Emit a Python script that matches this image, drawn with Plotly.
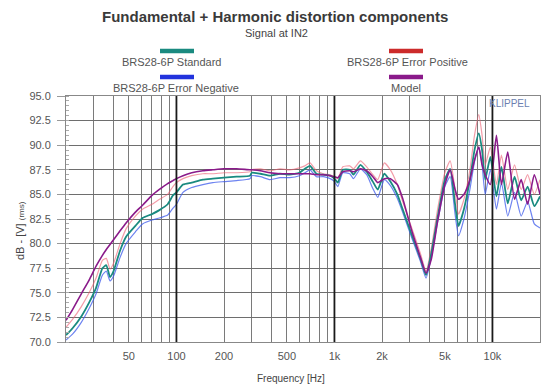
import plotly.graph_objects as go
import math

freq = [20, 22, 25, 28, 31, 34, 36, 38, 40, 44, 48, 55, 61, 70, 78, 88, 95, 100, 110, 125,
        147, 170, 200, 240, 292, 300, 340, 391, 452, 520, 600, 650, 700, 770, 850, 940,
        1000, 1050, 1130, 1250, 1320, 1460, 1600, 1750, 1880, 2070, 2260, 2500, 2700, 3100,
        3500, 3800, 4100, 4500, 5000, 5400, 5800, 6100, 6600, 7200, 7700, 8200, 8600, 9000,
        9700, 10600, 11400, 12500, 13800, 15200, 16700, 18400, 20000]

model = [72.2, 73.3, 74.9, 76.3, 77.7, 78.8, 79.4, 79.9, 80.4, 81.3, 82.1, 83.2, 83.9, 84.9, 85.5, 86.1, 86.4, 86.6, 86.9, 87.2,
         87.4, 87.5, 87.6, 87.6, 87.5, 87.5, 87.4, 87.2, 87.1, 87.1, 87.1, 87.1, 87.1, 87.0, 87.0, 86.9,
         86.8, 86.7, 87.3, 87.4, 87.3, 87.6, 87.4, 86.8, 86.2, 86.6, 86.6, 86.0, 84.6, 81.2,
         78.6, 77.0, 78.4, 82.3, 86.0, 87.5, 85.5, 84.5, 85.0, 86.5, 88.5, 89.8, 88.0, 87.0,
         86.0, 91.0, 86.0, 89.3, 84.5, 86.5, 84.0, 87.0, 85.0]

standard = [70.7, 71.4, 72.6, 74.0, 75.5, 77.5, 77.8, 76.6, 77.2, 79.3, 80.7, 81.8, 82.6, 83.0, 83.4, 84.0, 84.9, 85.2, 86.0, 86.2,
            86.5, 86.6, 86.7, 86.8, 86.9, 87.2, 87.1, 86.9, 87.1, 87.0, 87.2, 87.6, 87.9, 87.1, 87.0, 86.9,
            86.6, 86.2, 87.5, 87.5, 87.0, 88.0, 87.3, 86.3, 85.5, 87.1, 86.3, 85.0, 83.5, 80.8,
            78.5, 76.8, 79.0, 82.7, 86.5, 87.6, 84.0, 81.8, 83.5, 86.5, 89.5, 91.2, 89.5, 86.5,
            88.8, 84.8, 87.8, 84.1, 86.8, 84.4, 85.8, 83.8, 84.8]

err_pos = [71.5, 72.3, 73.6, 75.0, 76.5, 78.3, 78.5, 77.4, 78.0, 80.0, 81.5, 82.8, 83.5, 84.0, 84.5, 85.0, 85.8, 86.2, 86.6, 86.9,
           87.1, 87.1, 87.2, 87.2, 87.3, 87.5, 87.6, 87.4, 87.6, 87.5, 87.7, 87.9, 88.2, 87.4, 87.1, 87.0,
           86.8, 86.6, 87.8, 87.9, 87.6, 88.4, 87.8, 87.0, 86.5, 88.2, 87.5, 86.0, 84.3, 81.5,
           79.0, 77.2, 79.5, 83.5, 87.2, 88.4, 85.5, 83.0, 84.5, 87.5, 91.0, 93.1, 91.0, 88.0,
           89.8, 86.0, 89.0, 85.5, 88.0, 85.5, 87.0, 85.0, 86.5]

err_neg = [70.2, 70.8, 72.0, 73.4, 74.9, 76.8, 77.2, 76.2, 76.7, 78.6, 80.0, 81.2, 82.0, 82.4, 82.6, 82.9, 83.6, 84.0, 85.2, 85.7,
           86.0, 86.2, 86.3, 86.4, 86.6, 86.9, 86.8, 86.5, 86.7, 86.7, 86.9, 87.2, 87.5, 86.8, 86.8, 86.6,
           86.3, 85.8, 87.2, 87.1, 86.6, 87.6, 87.0, 85.6, 84.7, 86.5, 85.9, 84.6, 83.2, 80.5,
           78.2, 76.5, 78.6, 82.2, 85.8, 86.8, 83.0, 80.8, 82.5, 85.5, 88.3, 89.8, 88.0, 85.0,
           87.5, 83.5, 86.2, 82.8, 85.2, 82.8, 84.3, 82.0, 81.6]

series_names = ["BRS28-6P Standard", "BRS28-6P Error Positive", "BRS28-6P Error Negative", "Model"]
legend_colors = ["#1a8a80", "#cc2b2b", "#2233dd", "#8a1a8a"]

# grid positions and labels
grid_vals = []
for dec in [10, 100, 1000, 10000]:
    for m in range(1, 10):
        v = m * dec
        if 20 <= v <= 20000:
            grid_vals.append(v)
label_map = {50: "50", 100: "100", 200: "200", 500: "500", 1000: "1k", 2000: "2k", 5000: "5k", 10000: "10k"}
grid_text = [label_map.get(v, "") for v in grid_vals]
y_ticks = [70.0, 72.5, 75.0, 77.5, 80.0, 82.5, 85.0, 87.5, 90.0, 92.5, 95.0]

fig = go.Figure()
fig.add_trace(go.Scatter(x=freq, y=err_neg, mode="lines", line=dict(color="rgba(60,90,235,0.75)", width=1.2, shape="spline", smoothing=0.5)))
fig.add_trace(go.Scatter(x=freq, y=err_pos, mode="lines", line=dict(color="rgba(235,90,110,0.6)", width=1.2, shape="spline", smoothing=0.5)))
fig.add_trace(go.Scatter(x=freq, y=standard, mode="lines", line=dict(color="#1a8a80", width=1.8, shape="spline", smoothing=0.5)))
fig.add_trace(go.Scatter(x=freq, y=model, mode="lines", line=dict(color="#8a1a8a", width=1.6, shape="spline", smoothing=0.5)))

# decade lines
for d in [100, 1000, 10000]:
    fig.add_shape(type="line", xref="x", yref="paper", x0=d, x1=d, y0=0, y1=1,
                  line=dict(color="#1a1a1a", width=1.8), layer="above")

# legend (manual)
leg_px = [(177, 51, 171, 62), (406, 51, 407, 62), (177, 77, 176, 88), (406, 77, 406, 88)]
for name, col, (bx, by, tx, ty) in zip(series_names, legend_colors, leg_px):
    fig.add_shape(type="line", xref="paper", yref="paper",
                  x0=(bx - 17 - 66) / 474, x1=(bx + 17 - 66) / 474,
                  y0=(342 - by) / 246, y1=(342 - by) / 246,
                  line=dict(color=col, width=4.5))
    fig.add_annotation(text=name, xref="paper", yref="paper",
                       x=(tx - 66) / 474, y=(342 - ty) / 246, showarrow=False,
                       font=dict(size=11, color="#555"), xanchor="center", yanchor="middle")

fig.add_annotation(text="<b>Fundamental + Harmonic distortion components</b>", xref="paper", yref="paper",
                   x=(275 - 66) / 474, y=(342 - 16) / 246, showarrow=False,
                   font=dict(size=15, color="#3a3a3a", family="Liberation Sans"), xanchor="center", yanchor="middle")
fig.add_annotation(text="Signal at IN2", xref="paper", yref="paper",
                   x=(276 - 66) / 474, y=(342 - 33) / 246, showarrow=False,
                   font=dict(size=11, color="#444"), xanchor="center", yanchor="middle")
fig.add_annotation(text="KLIPPEL", xref="paper", yref="paper",
                   x=(509 - 66) / 474, y=(342 - 103) / 246, showarrow=False,
                   font=dict(size=10, color="#6c7fb0"), xanchor="center", yanchor="middle")
fig.add_annotation(text="dB - [V] <span style='font-size:8px'>(rms)</span>", xref="paper", yref="paper",
                   x=(20 - 66) / 474, y=(342 - 231) / 246, showarrow=False, textangle=-90,
                   font=dict(size=11, color="#444"), xanchor="center", yanchor="middle")
fig.add_annotation(text="Frequency [Hz]", xref="paper", yref="paper",
                   x=(291 - 66) / 474, y=(342 - 378) / 246, showarrow=False,
                   font=dict(size=10, color="#444"), xanchor="center", yanchor="middle")

fig.update_xaxes(type="log", range=[math.log10(20), math.log10(20000)],
                 tickvals=grid_vals, ticktext=grid_text, showgrid=True,
                 gridcolor="#7a7a7a", gridwidth=1, ticks="", zeroline=False,
                 ticklabelstandoff=4,
                 tickfont=dict(size=11, color="#555"), showline=True, linecolor="#888", mirror=True)
fig.update_yaxes(range=[70, 95], tickvals=y_ticks, ticktext=[f"{v:.1f}" for v in y_ticks],
                 showgrid=True, gridcolor="#6e6e6e", gridwidth=1, zeroline=False,
                 ticks="outside", ticklen=8, tickcolor="#999",
                 ticklabelstandoff=4,
                 minor=dict(dtick=0.5, ticks="inside", ticklen=3, tickcolor="#aaa", showgrid=False),
                 tickfont=dict(size=11, color="#555"), showline=True, linecolor="#888", mirror=True)

fig.update_layout(width=541, height=385, margin=dict(l=66, r=1, t=96, b=43),
                  paper_bgcolor="white", plot_bgcolor="white", showlegend=False,
                  font=dict(family="Liberation Sans"))

fig.write_html("out.html")
